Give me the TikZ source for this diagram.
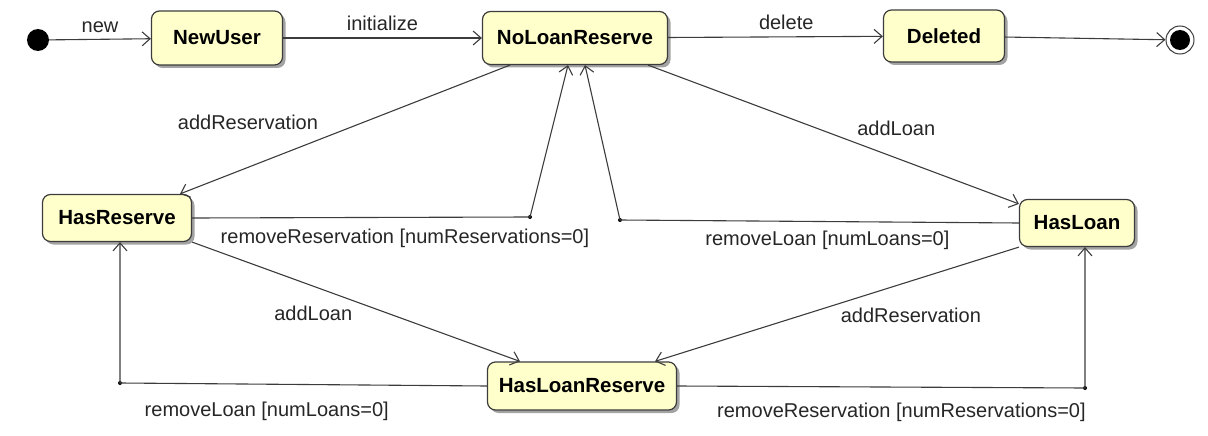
\documentclass[tikz,border=0pt]{standalone}
\usepackage{fontspec}
\setmainfont{Liberation Sans}
\usetikzlibrary{arrows.meta,calc,shadows}
\definecolor{statefill}{RGB}{255,255,204}
\definecolor{linegray}{RGB}{60,60,60}
\tikzset{
  state/.style={draw=linegray, line width=1.2pt, fill=statefill, rounded corners=8pt,
    font=\fontsize{20.5}{22}\selectfont\bfseries,
    drop shadow={shadow xshift=3pt, shadow yshift=-3pt, fill=black!60, opacity=0.6}},
  trans/.style={draw=linegray, line width=1.1pt, -{Straight Barb[length=8pt,width=14pt]}},
  lbl/.style={font=\fontsize{20}{22}\selectfont, text=black!85}
}
\begin{document}
\begin{tikzpicture}[x=1pt, y=-1pt] % pixel grid of the reference
    \useasboundingbox (0,0) rectangle (1208,436);
    % Draw states
    \node (init) [circle, fill=black, minimum size=22pt, inner sep=0pt] at (38,40) {};
    \node (newuser) [state, minimum width=131pt, minimum height=54pt] at (217,38) {NewUser};
    \node (noloan) [state, minimum width=185pt, minimum height=53pt] at (575,38) {NoLoanReserve};
    \node (deleted) [state, minimum width=121pt, minimum height=52pt] at (944,36) {Deleted};
    \node (final) [circle, draw=linegray, line width=1pt, minimum size=28pt, inner sep=0pt] at (1180,40) {};
    \fill (final) circle (10);
    \node (hasres) [state, minimum width=149pt, minimum height=47pt] at (117,218) {HasReserve};
    \node (hasloan) [state, minimum width=115pt, minimum height=47pt] at (1077,223) {HasLoan};
    \node (hasboth) [state, minimum width=189pt, minimum height=48pt] at (582,386) {HasLoanReserve};
    % Corner points of the guarded transitions
    \coordinate (c1) at (530,217);
    \coordinate (c2) at (620,220);
    \coordinate (c3) at (120,383);
    \coordinate (c4) at (1085,388);
    \foreach \c in {c1,c2,c3,c4} \fill (\c) circle (2);
    % Draw top row
    \draw[trans] (init) -- node[lbl, midway, above=3pt] {new} (newuser);
    \draw[trans] (newuser) -- node[lbl, midway, above=3pt] {initialize} (noloan);
    \draw[trans] (noloan) -- node[lbl, pos=0.55, above=3pt] {delete} (deleted);
    \draw[trans] (deleted) -- (final);
    % Draw transitions from NoLoanReserve
    \draw[trans] ($(noloan.south)+(-65,0)$) -- node[lbl, pos=0.57, above left, yshift=5pt] {addReservation} ($(hasres.north)+(63,0)$);
    \draw[trans] ($(noloan.south)+(73,0)$) -- node[lbl, pos=0.57, above right, yshift=5pt, xshift=-6pt] {addLoan} ($(hasloan.north west)+(0,5)$);
    % Draw transitions back to NoLoanReserve
    \draw[trans] (hasres.east) -- node[lbl, pos=0.63, below=8pt] {removeReservation [numReservations=0]} (c1) -- ($(noloan.south)+(-7,0)$);
    \draw[trans] (hasloan.west) -- node[lbl, pos=0.48, below=6pt] {removeLoan [numLoans=0]} (c2) -- ($(noloan.south)+(10,0)$);
    % Draw transitions to HasLoanReserve
    \draw[trans] (hasres.south east) -- node[lbl, pos=0.5, below left] {addLoan} ($(hasboth.north)+(-62,0)$);
    \draw[trans] (hasloan.south west) -- node[lbl, pos=0.5, below right] {addReservation} ($(hasboth.north)+(73,0)$);
    % Draw transitions back from HasLoanReserve
    \draw[trans] (hasboth.west) -- node[lbl, pos=0.6, below=14pt] {removeLoan [numLoans=0]} (c3) -- (c3 |- hasres.south);
    \draw[trans] (hasboth.east) -- node[lbl, pos=0.55, below=12pt] {removeReservation [numReservations=0]} (c4) -- (c4 |- hasloan.south);
\end{tikzpicture}
\end{document}
